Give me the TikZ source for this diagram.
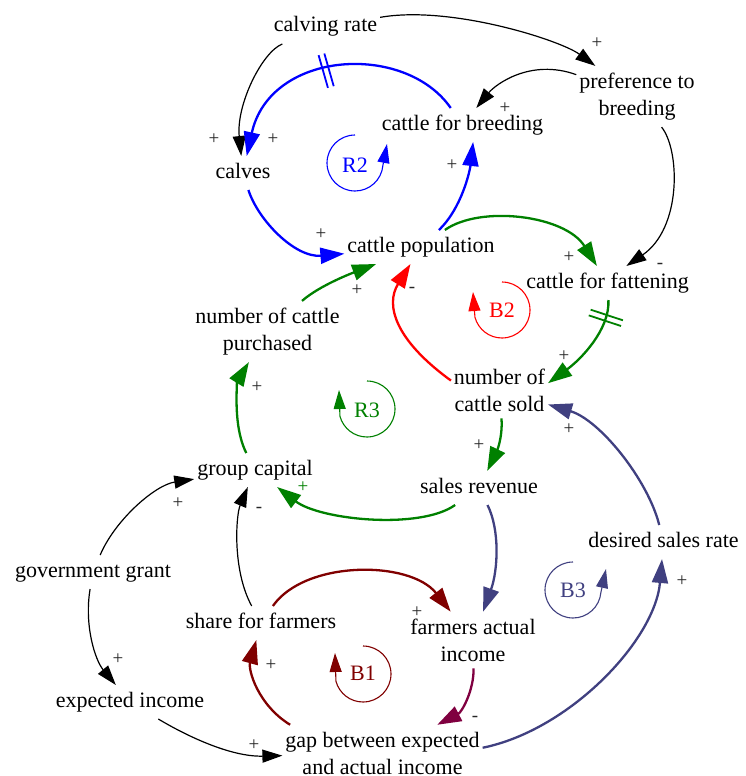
\documentclass[tikz,border=0pt]{standalone}
\usepackage{fontspec}
\setmainfont{Liberation Serif}
\newfontfamily\cldfont{Liberation Serif}
\usetikzlibrary{arrows.meta,decorations.markings}
\definecolor{cblue}{RGB}{0,0,255}
\definecolor{cgreen}{RGB}{0,128,0}
\definecolor{cred}{RGB}{255,0,0}
\definecolor{cdred}{RGB}{128,0,0}
\definecolor{cmaroon}{RGB}{128,0,64}
\definecolor{cnavy}{RGB}{64,64,128}
\begin{document}
\begin{tikzpicture}[x=1pt,y=-1pt,
  var/.style={font=\cldfont\fontsize{22}{27}\selectfont, inner xsep=3pt, inner ysep=7pt, outer sep=0pt, align=center},
  one/.style={var, text height=15pt, text depth=5pt},
  pol/.style={font=\cldfont\fontsize{19}{20}\selectfont, inner sep=0pt, text=black!85},
  lnk/.style={line width=1.2pt, -{Triangle[length=20pt,width=13pt]}},
  fb/.style={line width=2.3pt, -{Triangle[length=24pt,width=16pt]}},
  loopc/.style={line width=1.1pt, -{Triangle[length=19pt,width=12pt]}},
  looptxt/.style={font=\cldfont\fontsize{22}{27}\selectfont, inner sep=0pt},
  delay/.style={postaction={decorate}, decoration={markings, mark=at position #1 with {\draw[-, line width=1.8pt] (-3pt,-17pt) -- (-3pt,17pt) (3pt,-17pt) -- (3pt,17pt);}}}
]
\useasboundingbox (0,0) rectangle (745,776);

% variables
\node[one] (calving) at (325.5,27) {calving rate};
\node[var] (pref) at (637,96.5) {preference to\\breeding};
\node[one] (breed) at (462.5,125) {cattle for breeding};
\node[one] (calves) at (243,173) {calves};
\node[one] (pop) at (421,247) {cattle population};
\node[one] (fat) at (607.5,283) {cattle for fattening};
\node[var] (purch) at (267.5,331.5) {number of cattle\\purchased};
\node[var] (sold) at (499.5,390) {number of\\cattle sold};
\node[one] (capital) at (255,470) {group capital};
\node[one] (revenue) at (479,488) {sales revenue};
\node[one] (desired) at (663.5,542) {desired sales rate};
\node[one] (grant) at (93,572) {government grant};
\node[one] (share) at (261,623) {share for farmers};
\node[var] (actual) at (473,640) {farmers actual\\income};
\node[one] (expected) at (130,702) {expected income};
\node[var] (gap) at (382.5,753) {gap between expected\\and actual income};

% black links
\draw[lnk] (calving) .. controls (262,52) and (236,105) .. (calves);
\draw[lnk] (calving) .. controls (450,5) and (560,40) .. (pref);
\draw[lnk] (pref) .. controls (530,58) and (495,85) .. (breed);
\draw[lnk] (pref) .. controls (680,150) and (682,228) .. (fat.42);
\draw[lnk] (grant) .. controls (115,520) and (155,485) .. (capital);
\draw[lnk] (grant) .. controls (84,625) and (95,660) .. (expected);
\draw[lnk] (expected) .. controls (185,735) and (230,757) .. (gap);
\draw[lnk] (share) .. controls (232,570) and (236,515) .. (capital);

% blue
\draw[fb, cblue, delay=0.53] (breed) .. controls (405,42) and (270,50) .. (calves);
\draw[fb, cblue] (calves) .. controls (258,220) and (295,258) .. (pop);
\draw[fb, cblue] (pop) .. controls (462,208) and (470,170) .. (breed.302);

% green
\draw[fb, cgreen] (pop) .. controls (480,205) and (565,215) .. (fat);
\draw[fb, cgreen, delay=0.17] (fat) .. controls (610,330) and (580,360) .. (sold.8);
\draw[fb, cgreen] (purch) .. controls (320,285) and (355,272) .. (pop);
\draw[fb, cgreen] (capital) .. controls (232,425) and (238,380) .. (purch);
\draw[fb, cgreen] (sold) .. controls (503,440) and (495,455) .. (revenue);
\draw[fb, cgreen] (revenue) .. controls (420,530) and (320,520) .. (capital);

% red
\draw[fb, cred] (sold.169) .. controls (395,340) and (385,305) .. (pop);

% dark red / maroon
\draw[fb, cdred] (share) .. controls (305,560) and (410,560) .. (actual);
\draw[fb, cdred] (gap.163) .. controls (258,705) and (248,670) .. (share);
\draw[fb, cmaroon] (actual) .. controls (474,690) and (462,712) .. (gap);

% navy
\draw[fb, cnavy] (revenue) .. controls (500,530) and (498,570) .. (actual);
\draw[fb, cnavy] (desired) .. controls (648,480) and (600,420) .. (sold);
\draw[fb, cnavy] (gap.3) .. controls (570,730) and (655,640) .. (desired);

% polarities
\node[pol] (p1) at (214,139) {+};
\node[pol] (p2) at (273,139) {+};
\node[pol] (p3) at (597,43) {+};
\node[pol] (p4) at (505,108) {+};
\node[pol] (p5) at (660,266) {-};
\node[pol] (p6) at (321,234) {+};
\node[pol] (p7) at (452,165) {+};
\node[pol] (p8) at (569,257) {+};
\node[pol] (p9) at (564,356) {+};
\node[pol] (p10) at (357,290) {+};
\node[pol] (p11) at (412,290) {-};
\node[pol] (p12) at (257,387) {+};
\node[pol] (p13) at (479,445) {+};
\node[pol, text=cgreen] (p14) at (303,487) {+};
\node[pol] (p15) at (569,429) {+};
\node[pol] (p16) at (178,503) {+};
\node[pol] (p17) at (259,510) {-};
\node[pol] (p18) at (118,659) {+};
\node[pol] (p19) at (254,745) {+};
\node[pol] (p20) at (417,612) {+};
\node[pol] (p21) at (271,665) {+};
\node[pol] (p22) at (475,719) {-};
\node[pol] (p23) at (682,581) {+};

% loop markers
\draw[loopc, cblue] (355,135) arc (270:5:28) -- (387,144);
\node[looptxt, cblue] (R2) at (355,165) {R2};
\draw[loopc, cred] (502,282) arc (270:525:28) -- (473,292);
\node[looptxt, cred] (B2) at (502,310) {B2};
\draw[loopc, cgreen] (367,381) arc (270:525:28) -- (339,390);
\node[looptxt, cgreen] (R3) at (367,410) {R3};
\draw[loopc, cdred] (363,646) arc (270:525:28) -- (335,653);
\node[looptxt, cdred] (B1) at (363,673) {B1};
\draw[loopc, cnavy] (573,562) arc (270:5:28) -- (606,569);
\node[looptxt, cnavy] (B3) at (573,590) {B3};
\end{tikzpicture}
\end{document}
